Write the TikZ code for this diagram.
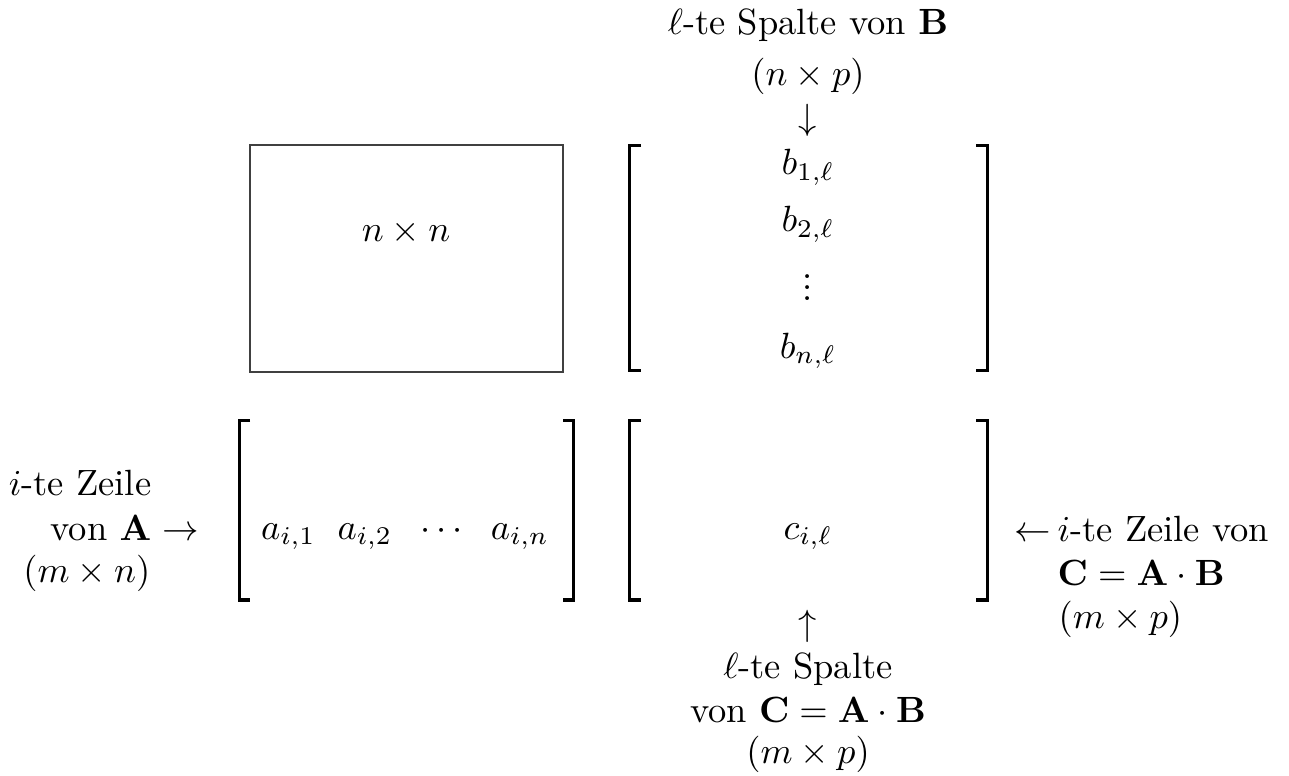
\documentclass[tikz,border=0pt]{standalone}
\newcommand{\myvdots}{\vbox{\baselineskip=3pt\lineskiplimit=-20pt\hbox{.}\hbox{.}\hbox{.}}}
\begin{document}
\begin{tikzpicture}[x=0.274pt,y=-0.274pt,
  txt/.style={inner sep=0pt, anchor=base},
  txtr/.style={inner sep=0pt, anchor=base east},
  txtl/.style={inner sep=0pt, anchor=base west},
  brk/.style={line width=0.9pt, line join=miter, line cap=butt},
  box/.style={line width=0.4pt, draw=black!75}]
\useasboundingbox (0,0) rectangle (1289,776);
% top label of B
\node[txt] (tB1) at (808,35) {$\ell$-te Spalte von $\mathbf{B}$};
\node[txt] (tB2) at (808,86) {$(n\times p)$};
\node[txt] (tB3) at (808,130) {$\downarrow$};
% n x n box
\draw[box] (250,145) rectangle (563,372);
\node[txt] (nn) at (406,241) {$n\times n$};
% B column
\draw[brk] (641,145.5) -- (629.5,145.5) -- (629.5,370.5) -- (641,370.5);
\draw[brk] (976,145.5) -- (987.5,145.5) -- (987.5,370.5) -- (976,370.5);
\node[txt] (b1) at (808,175) {$b_{1,\ell}$};
\node[txt] (b2) at (808,232) {$b_{2,\ell}$};
\node[inner sep=0pt] (bd) at (808,288) {\myvdots};
\node[txt] (bn) at (808,358) {$b_{n,\ell}$};
% A row
\draw[brk] (250,420.5) -- (239.5,420.5) -- (239.5,600) -- (250,600);
\draw[brk] (563,420.5) -- (573.5,420.5) -- (573.5,600) -- (563,600);
\node[txt] (arow) at (405,539) {$a_{i,1}\hspace{6pt}a_{i,2}\hspace{6pt}\cdots\hspace{6pt}a_{i,n}$};
% C
\draw[brk] (641,420.5) -- (629.5,420.5) -- (629.5,600) -- (641,600);
\draw[brk] (976,420.5) -- (987.5,420.5) -- (987.5,600) -- (976,600);
\node[txt] (c) at (808,539) {$c_{i,\ell}$};
% left label
\node[txtr] (lA1) at (152,495) {$i$-te Zeile};
\node[txtr] (lA2) at (152,540) {von $\mathbf{A}$};
\node[txtr] (lA3) at (151,582) {$(m\times n)$};
\node[txt] (lAr) at (181,540) {$\rightarrow$};
% right label
\node[txtl] (rCa) at (1014,541) {$\leftarrow$};
\node[txtl] (rC1) at (1057,541) {$i$-te Zeile von};
\node[txtl] (rC2) at (1057,585) {$\mathbf{C}=\mathbf{A}\cdot\mathbf{B}$};
\node[txtl] (rC3) at (1058,628) {$(m\times p)$};
% bottom label
\node[txt] (bCa) at (808,635) {$\uparrow$};
\node[txt] (bC1) at (808,678) {$\ell$-te Spalte};
\node[txt] (bC2) at (808,722) {von $\mathbf{C}=\mathbf{A}\cdot\mathbf{B}$};
\node[txt] (bC3) at (808,763) {$(m\times p)$};
\end{tikzpicture}
\end{document}
